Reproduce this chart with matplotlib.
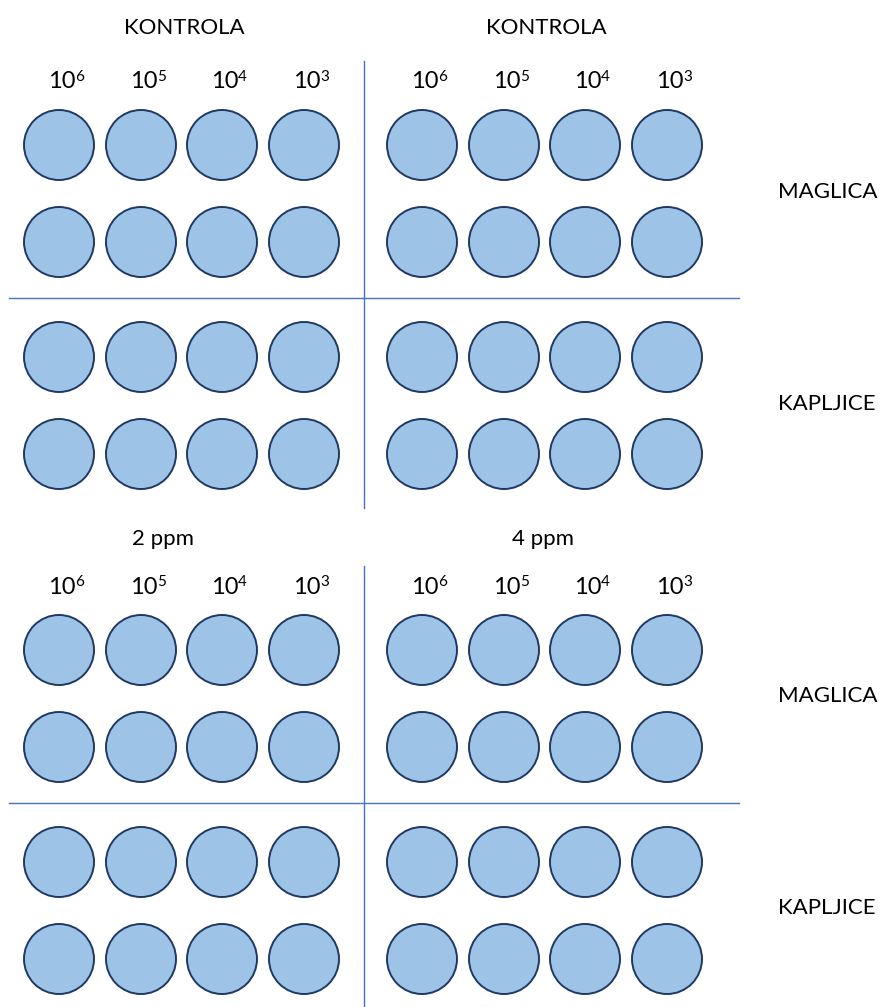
import matplotlib.pyplot as plt
from matplotlib.patches import Ellipse

plt.rcParams["font.family"] = ["Lato", "DejaVu Sans"]

group_titles = [["KONTROLA", "KONTROLA"], ["2 ppm", "4 ppm"]]
exponents = ["6", "5", "4", "3"]
row_labels = ["MAGLICA", "KAPLJICE"]

fill_color = "#9DC3E6"
edge_color = "#1F3864"
line_color = "#4472C4"

width, height = 885, 1007
fig = plt.figure(figsize=(width / 100, height / 100), dpi=100)
ax = fig.add_axes([0, 0, 1, 1])
ax.set_xlim(0, width)
ax.set_ylim(height, 0)
ax.axis("off")

col_x = [59, 141, 222, 304]
block_dx = 363
block_dy = 505
row_y = [145, 242, 357, 454]
title_x = [[184, 546], [163, 543]]
title_y = [28, 539]
radius = 35

for b, titles in enumerate(group_titles):
    oy = b * block_dy
    for side, title in enumerate(titles):
        ax.text(title_x[b][side], title_y[b], title, ha="center", va="center", fontsize=16)
        ox = side * block_dx
        for c, exp in enumerate(exponents):
            cx = col_x[c] + ox
            ax.text(cx + 17, 82 + oy, "10", ha="right", va="center", fontsize=17)
            ax.text(cx + 16, 77 + oy, exp, ha="left", va="center", fontsize=11)
            for r in row_y:
                ax.add_patch(Ellipse((cx, r + oy), 2 * radius, 2 * radius,
                                     facecolor=fill_color, edgecolor=edge_color, linewidth=1.4))
    # dividing lines
    ax.plot([364, 364], [61 + oy, min(508 + oy, height)], color=line_color, linewidth=1.0)
    ax.plot([9, 739], [298 + oy, 298 + oy], color=line_color, linewidth=1.0)
    for k, label in enumerate(row_labels):
        yy = (row_y[2 * k] + row_y[2 * k + 1]) / 2 + oy - 2
        ax.text(778, yy, label, ha="left", va="center", fontsize=16)

fig.savefig("out.png", dpi=100)
